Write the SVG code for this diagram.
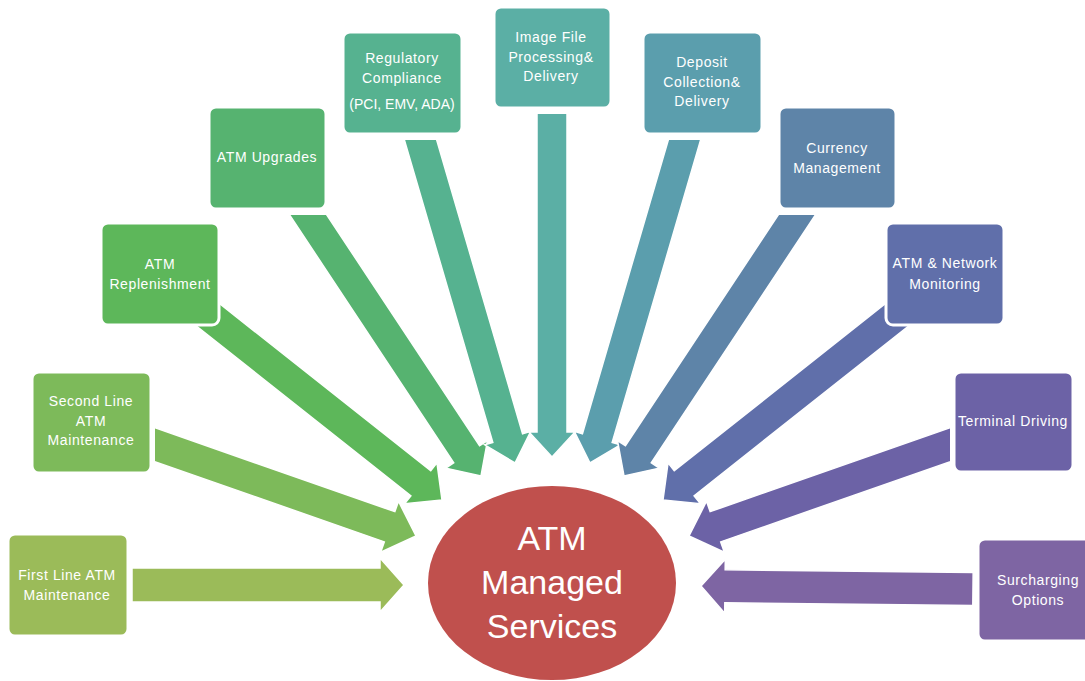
<svg xmlns="http://www.w3.org/2000/svg" width="1085" height="681" viewBox="0 0 1085 681">
<style>
.box{stroke:#ffffff;stroke-width:3}
.arr{stroke:#ffffff;stroke-width:1.5;stroke-linejoin:miter}
.lbl{font-family:"Liberation Sans",Arial,sans-serif;font-size:14px;letter-spacing:0.6px;fill:#ffffff;text-anchor:middle}
.tight{letter-spacing:0px}
.hub{font-family:"Liberation Sans",Arial,sans-serif;font-size:34px;fill:#ffffff;text-anchor:middle}
</style>
<defs>
  <clipPath id="cT215" clipPathUnits="userSpaceOnUse"><rect x="0" y="215" width="1085" height="466"/></clipPath>
  <clipPath id="cT140" clipPathUnits="userSpaceOnUse"><rect x="0" y="140" width="1085" height="541"/></clipPath>
  <clipPath id="cT114" clipPathUnits="userSpaceOnUse"><rect x="0" y="114" width="1085" height="567"/></clipPath>
  <clipPath id="cL155" clipPathUnits="userSpaceOnUse"><rect x="155" y="0" width="930" height="681"/></clipPath>
  <clipPath id="cR950" clipPathUnits="userSpaceOnUse"><rect x="0" y="0" width="950" height="681"/></clipPath>
</defs>
<rect width="1085" height="681" fill="#ffffff"/>
<g id="connectors">
  <polygon class="arr" fill="#9BBB59" transform="translate(404,585)" points="0,0 -24,-27 -24,-17 -272,-17 -272,17 -24,17 -24,27"/>
  <g clip-path="url(#cL155)"><polygon class="arr" fill="#7DBA5A" transform="translate(416,536) rotate(19.27)" points="0,0 -28,-27 -28,-16 -300,-16 -300,16 -28,16 -28,27"/></g>
  <polygon class="arr" fill="#5DB75A" transform="translate(442,500) rotate(38.35)" points="0,0 -27,-26 -27,-16 -315,-16 -315,16 -27,16 -27,26"/>
  <g clip-path="url(#cT215)"><polygon class="arr" fill="#56B370" transform="translate(481,476) rotate(56.5)" points="0,0 -26,-25 -26,-15.5 -345,-15.5 -345,15.5 -26,15.5 -26,25"/></g>
  <g clip-path="url(#cT140)"><polygon class="arr" fill="#56B290" transform="translate(515,463) rotate(73.7)" points="0,0 -26,-24 -26,-15.5 -365,-15.5 -365,15.5 -26,15.5 -26,24"/></g>
  <g clip-path="url(#cT114)"><polygon class="arr" fill="#5BAFA5" transform="translate(552,457) rotate(90)" points="0,0 -25,-23 -25,-15 -360,-15 -360,15 -25,15 -25,23"/></g>
  <g clip-path="url(#cT140)"><polygon class="arr" fill="#5B9EAD" transform="translate(590,463) rotate(106.3)" points="0,0 -26,-24 -26,-15.5 -365,-15.5 -365,15.5 -26,15.5 -26,24"/></g>
  <g clip-path="url(#cT215)"><polygon class="arr" fill="#5E84A8" transform="translate(624,476) rotate(123.5)" points="0,0 -26,-25 -26,-15.5 -345,-15.5 -345,15.5 -26,15.5 -26,25"/></g>
  <polygon class="arr" fill="#606FAA" transform="translate(663,500) rotate(141.65)" points="0,0 -27,-26 -27,-16 -315,-16 -315,16 -27,16 -27,26"/>
  <g clip-path="url(#cR950)"><polygon class="arr" fill="#6C62A6" transform="translate(689,536) rotate(160.73)" points="0,0 -28,-27 -28,-16 -300,-16 -300,16 -28,16 -28,27"/></g>
  <polygon class="arr" fill="#7E65A3" transform="translate(701,586) rotate(180.63)" points="0,0 -24,-27 -24,-16.5 -272,-16.5 -272,16.5 -24,16.5 -24,27"/>
</g>
<g id="n1">
  <rect class="box" x="8" y="534" width="120" height="102" rx="7" fill="#9BBB59"/>
  <text class="lbl" x="67" y="580">First Line ATM</text>
  <text class="lbl" x="67" y="600">Maintenance</text>
</g>
<g id="n2">
  <rect class="box" x="32" y="372" width="119" height="101" rx="7" fill="#7DBA5A"/>
  <text class="lbl" x="91" y="406">Second Line</text>
  <text class="lbl" x="91" y="426">ATM</text>
  <text class="lbl" x="91" y="445">Maintenance</text>
</g>
<g id="n3">
  <rect class="box" x="101" y="223" width="118" height="102" rx="7" fill="#5DB75A"/>
  <text class="lbl" x="160" y="269">ATM</text>
  <text class="lbl" x="160" y="289">Replenishment</text>
</g>
<g id="n4">
  <rect class="box" x="209" y="107" width="117" height="102" rx="7" fill="#56B370"/>
  <text class="lbl" x="267" y="162">ATM Upgrades</text>
</g>
<g id="n5">
  <rect class="box" x="343" y="32" width="119" height="102" rx="7" fill="#56B290"/>
  <text class="lbl" x="402" y="63">Regulatory</text>
  <text class="lbl" x="402" y="83">Compliance</text>
  <text class="lbl tight" x="402" y="109">(PCI, EMV, ADA)</text>
</g>
<g id="n6">
  <rect class="box" x="494" y="7" width="117" height="101" rx="7" fill="#5BAFA5"/>
  <text class="lbl" x="551" y="42">Image File</text>
  <text class="lbl" x="551" y="62">Processing&amp;</text>
  <text class="lbl" x="551" y="81">Delivery</text>
</g>
<g id="n7">
  <rect class="box" x="643" y="32" width="119" height="102" rx="7" fill="#5B9EAD"/>
  <text class="lbl" x="702" y="67">Deposit</text>
  <text class="lbl" x="702" y="87">Collection&amp;</text>
  <text class="lbl" x="702" y="106">Delivery</text>
</g>
<g id="n8">
  <rect class="box" x="779" y="107" width="117" height="102" rx="7" fill="#5E84A8"/>
  <text class="lbl" x="837" y="153">Currency</text>
  <text class="lbl" x="837" y="173">Management</text>
</g>
<g id="n9">
  <rect class="box" x="886" y="223" width="118" height="102" rx="7" fill="#606FAA"/>
  <text class="lbl" x="945" y="268">ATM &amp; Network</text>
  <text class="lbl" x="945" y="289">Monitoring</text>
</g>
<g id="n10">
  <rect class="box" x="954" y="372" width="119" height="100" rx="7" fill="#6C62A6"/>
  <text class="lbl" x="1013" y="426">Terminal Driving</text>
</g>
<g id="n11">
  <rect class="box" x="978" y="539" width="120" height="102" rx="7" fill="#7E65A3"/>
  <text class="lbl" x="1038" y="585">Surcharging</text>
  <text class="lbl" x="1038" y="605">Options</text>
</g>
<g id="hub">
  <ellipse cx="552" cy="583" rx="124" ry="97" fill="#C0504D"/>
  <text class="hub" x="552" y="550">ATM</text>
  <text class="hub" x="552" y="594">Managed</text>
  <text class="hub" x="552" y="638">Services</text>
</g>
</svg>
